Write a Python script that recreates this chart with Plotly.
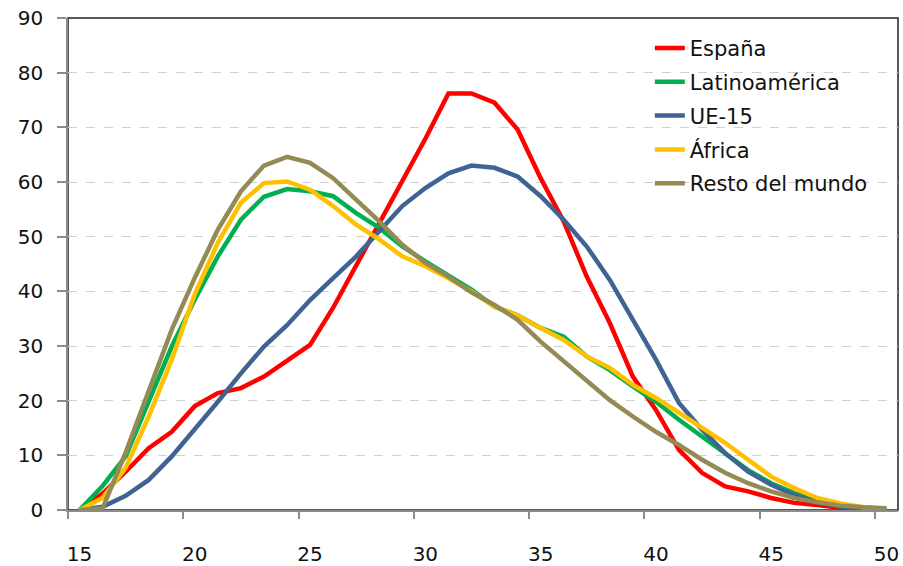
import plotly.graph_objects as go

ages = list(range(15, 51))

espana = [0, 3, 7, 11.3, 14.3, 19, 21.4, 22.3, 24.4, 27.2, 30.2, 37.0, 44.8, 52.5, 60.2, 67.9,
          76.2, 76.2, 74.5, 69.6, 60.7, 52.8, 42.7, 34.2, 24.4, 18.3, 11, 6.8, 4.3, 3.4,
          2.2, 1.3, 0.9, 0.4, 0.2, 0.1]
latino = [0, 4.4, 9.8, 20.1, 29.9, 38.5, 46.4, 53.1, 57.3, 58.7, 58.3, 57.4, 54.3, 51.6, 48.2, 45.5,
          43.0, 40.3, 37.2, 35.6, 33.3, 31.7, 28.1, 25.6, 22.6, 19.8, 16.5, 13.4, 10.4, 7.3,
          4.9, 3.1, 1.8, 0.8, 0.4, 0.2]
ue15 = [0, 0.6, 2.6, 5.5, 9.8, 14.7, 19.8, 25.0, 29.9, 33.8, 38.4, 42.4, 46.4, 51.0, 55.6, 58.9,
        61.6, 63.0, 62.6, 61.0, 57.4, 53.1, 48.2, 42.1, 34.8, 27.5, 19.6, 14.7, 10.4, 7.0,
        4.6, 2.7, 1.5, 0.6, 0.2, 0.1]
africa = [0, 2.2, 7.7, 17.1, 27.5, 39.5, 48.9, 56.2, 59.8, 60.1, 58.6, 55.6, 52.2, 49.5, 46.4, 44.6,
          42.4, 40.0, 37.2, 35.6, 33.3, 31.1, 28.1, 26.0, 22.9, 20.5, 17.8, 15.0, 12.3, 9.2,
          6.1, 4.0, 2.2, 1.2, 0.5, 0.2]
resto = [0, 0.3, 10.5, 22.0, 33.0, 42.5, 51.3, 58.3, 63.0, 64.6, 63.5, 60.7, 56.8, 52.8, 48.5, 45.2,
         42.7, 39.8, 37.5, 34.8, 30.8, 27.2, 23.5, 20.1, 17.1, 14.3, 11.9, 9.2, 6.8, 4.9,
         3.4, 2.2, 1.4, 0.8, 0.5, 0.3]

series = [
    ("España", espana, "#FF0000"),
    ("Latinoamérica", latino, "#00B050"),
    ("UE-15", ue15, "#3F6392"),
    ("África", africa, "#FFC000"),
    ("Resto del mundo", resto, "#948A54"),
]

x_labels = [15, 20, 25, 30, 35, 40, 45, 50]
x_tickmarks = [14.5, 19.5, 24.5, 29.5, 34.5, 39.5, 44.5, 49.5]
y_ticks = list(range(0, 91, 10))

FONT = "DejaVu Sans"

fig = go.Figure()
for name, vals, col in series:
    fig.add_trace(go.Scatter(x=ages, y=vals, name=name, mode="lines",
                             line=dict(color=col, width=4.5),
                             legendgroup=name))

# invisible trace on overlay axis to show tick marks between categories
fig.add_trace(go.Scatter(x=[14.5, 50.5], y=[None, None], xaxis="x2", showlegend=False,
                         hoverinfo="skip"))

fig.update_layout(
    width=903, height=566,
    margin=dict(l=68, r=5, t=18, b=56, autoexpand=False),
    paper_bgcolor="white", plot_bgcolor="white",
    font=dict(family=FONT, size=20, color="#111111"),
    xaxis=dict(range=[14.5, 50.5], tickvals=x_labels, ticks="", showgrid=False,
               showline=True, linecolor="#8C8C8C", linewidth=1.5, zeroline=False,
               ticklabelstandoff=25, automargin=False),
    xaxis2=dict(range=[14.5, 50.5], overlaying="x", side="bottom", tickvals=x_tickmarks,
                ticks="outside", ticklen=8, tickcolor="#8C8C8C", tickwidth=1.5,
                showticklabels=False, showgrid=False, showline=False, zeroline=False,
                automargin=False),
    yaxis=dict(range=[0, 90], tickvals=y_ticks, ticks="outside", ticklen=9,
               tickcolor="#8C8C8C", tickwidth=1.5, showline=True, linecolor="#8C8C8C",
               linewidth=1.5, gridcolor="#D0D0D0", griddash="dash", gridwidth=1,
               zeroline=False, ticklabelstandoff=10, automargin=False),
    legend=dict(x=0.701, y=0.98, xanchor="left", yanchor="top", bgcolor="rgba(0,0,0,0)",
                font=dict(family=FONT, size=21, color="#111111"), tracegroupgap=3.5,
                itemclick=False),
    showlegend=True,
)

# top/right frame
fig.add_shape(type="rect", xref="paper", yref="paper", x0=0, y0=0, x1=1, y1=1,
              line=dict(color="#222222", width=1.5), layer="below")

fig.write_html("out.html", config={"displayModeBar": False},
               post_script="document.body.style.margin='0';document.body.style.overflow='hidden';")
